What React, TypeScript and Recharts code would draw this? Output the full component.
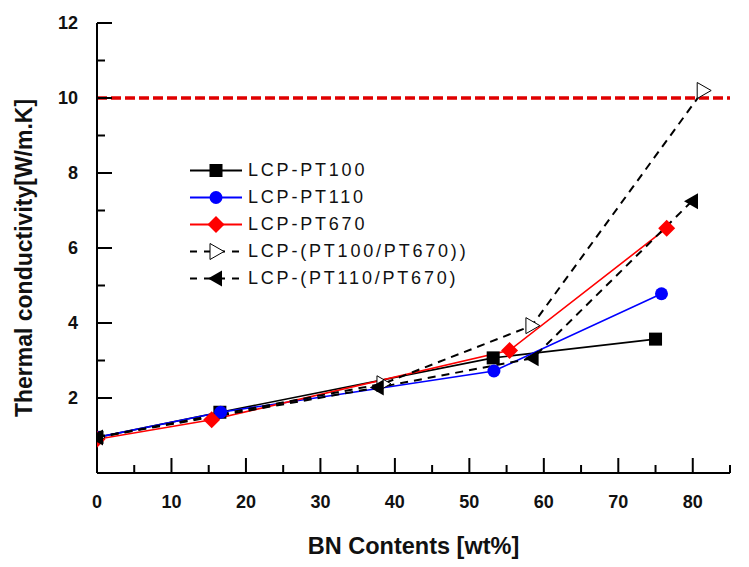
import React from 'react';
import { LineChart, Line, XAxis, YAxis, ReferenceLine, Legend } from 'recharts';

// BN content (wt%) and thermal conductivity (W/m.K) per compound
const bnPT100 = [0, 16.5, 53.2, 75.0];
const kPT100 = [0.95, 1.62, 3.07, 3.57];
const bnPT110 = [0, 16.6, 53.3, 75.8];
const kPT110 = [0.95, 1.62, 2.72, 4.78];
const bnPT670 = [0, 15.4, 55.4, 76.5];
const kPT670 = [0.9, 1.42, 3.27, 6.53];
const bnMix100 = [0, 38.4, 58.4, 81.4];
const kMix100 = [0.95, 2.38, 3.93, 10.2];
const bnMix110 = [0, 37.7, 58.5, 79.9];
const kMix110 = [0.95, 2.28, 3.06, 7.25];

const seriesNames = ['LCP-PT100', 'LCP-PT110', 'LCP-PT670', 'LCP-(PT100/PT670))', 'LCP-(PT110/PT670)'];
const xTicks = [0, 5, 10, 15, 20, 25, 30, 35, 40, 45, 50, 55, 60, 65, 70, 75, 80, 85];
const yTicks = [0, 1, 2, 3, 4, 5, 6, 7, 8, 9, 10, 11, 12];
const targetValue = 10;

const FONT = 'Arial, "Liberation Sans", sans-serif';

const toPoints = (xs: number[], ys: number[]) => xs.map((x, i) => ({ x, y: ys[i] }));

type Kind = 'square' | 'circle' | 'diamond' | 'triRight' | 'triLeft';

const Marker = ({ kind, cx, cy }: { kind: Kind; cx: number; cy: number }) => {
  if (cx == null || cy == null) return null;
  switch (kind) {
    case 'square':
      return <rect x={cx - 6.5} y={cy - 6.5} width={13} height={13} fill="#000" />;
    case 'circle':
      return <circle cx={cx} cy={cy} r={6.5} fill="#0000ff" />;
    case 'diamond':
      return <polygon points={`${cx},${cy - 8.5} ${cx + 8.5},${cy} ${cx},${cy + 8.5} ${cx - 8.5},${cy}`} fill="#ff0000" />;
    case 'triRight':
      return <polygon points={`${cx - 6},${cy - 8} ${cx + 8},${cy} ${cx - 6},${cy + 8}`} fill="#fff" stroke="#000" strokeWidth={1} />;
    default:
      return <polygon points={`${cx + 6},${cy - 8} ${cx - 8},${cy} ${cx + 6},${cy + 8}`} fill="#000" />;
  }
};

const series = [
  { name: seriesNames[0], data: toPoints(bnPT100, kPT100), kind: 'square' as Kind, color: '#000', dash: undefined, width: 1.6 },
  { name: seriesNames[1], data: toPoints(bnPT110, kPT110), kind: 'circle' as Kind, color: '#0000ff', dash: undefined, width: 1.6 },
  { name: seriesNames[2], data: toPoints(bnPT670, kPT670), kind: 'diamond' as Kind, color: '#ff0000', dash: undefined, width: 1.6 },
  { name: seriesNames[3], data: toPoints(bnMix100, kMix100), kind: 'triRight' as Kind, color: '#000', dash: '8 6', width: 2 },
  { name: seriesNames[4], data: toPoints(bnMix110, kMix110), kind: 'triLeft' as Kind, color: '#000', dash: '8 6', width: 2 },
];

// inward ticks, labels only on major values
const makeTick = (side: 'bottom' | 'left' | 'top' | 'right') => (props: any) => {
  const { x, y, payload } = props;
  const v = payload.value;
  const major = side === 'bottom' || side === 'top' ? v % 10 === 0 : v % 2 === 0;
  const len = major ? 15 : 8;
  let line;
  if (side === 'bottom') line = <line x1={x} y1={y} x2={x} y2={y - len} />;
  else if (side === 'top') line = <line x1={x} y1={y} x2={x} y2={y + len} />;
  else if (side === 'left') line = <line x1={x} y1={y} x2={x + len} y2={y} />;
  else line = <line x1={x} y1={y} x2={x - len} y2={y} />;
  return (
    <g stroke="#000" strokeWidth={2}>
      {line}
      {side === 'bottom' && major && (
        <text x={x} y={y + 29} dy="0.35em" textAnchor="middle" stroke="none" fill="#111" fontSize={18} fontWeight="bold" fontFamily={FONT}>
          {v}
        </text>
      )}
      {side === 'left' && major && v > 0 && (
        <text x={x - 19} y={y} dy="0.35em" textAnchor="end" stroke="none" fill="#111" fontSize={18} fontWeight="bold" fontFamily={FONT}>
          {v}
        </text>
      )}
    </g>
  );
};

const LegendBox = () => (
  <div style={{ fontFamily: FONT, fontSize: 18, color: '#111', letterSpacing: 2.8 }}>
    {series.map((s) => (
      <div key={s.name} style={{ display: 'flex', alignItems: 'center', height: 27 }}>
        <svg width={58} height={27}>
          <line x1={2} y1={13.5} x2={54} y2={13.5} stroke={s.color} strokeWidth={2} strokeDasharray={s.dash ? '7 7' : undefined} />
          <Marker kind={s.kind} cx={28} cy={13.5} />
        </svg>
        <span style={{ marginLeft: 2 }}>{s.name}</span>
      </div>
    ))}
  </div>
);

export default function App() {
  return (
    <div style={{ position: 'absolute', left: 0, top: 0, background: '#fff' }}>
      <LineChart width={749} height={567} margin={{ top: 23, right: 19, left: 0, bottom: 0 }}>
        <XAxis
          dataKey="x"
          type="number"
          domain={[0, 85]}
          ticks={xTicks}
          interval={0}
          height={94}
          tickSize={0}
          tickMargin={0}
          axisLine={{ stroke: '#000', strokeWidth: 2 }}
          tickLine={false}
          tick={makeTick('bottom')}
          allowDataOverflow
          label={{
            content: (p: any) => (
              <text x={p.viewBox.x + p.viewBox.width / 2} y={p.viewBox.y + 81} textAnchor="middle" fontSize={23.5} fontWeight="bold" fontFamily={FONT} fill="#111">
                BN Contents [wt%]
              </text>
            ),
          }}
        />
        <XAxis
          xAxisId="top"
          orientation="top"
          dataKey="x"
          type="number"
          domain={[0, 85]}
          ticks={xTicks}
          interval={0}
          height={0}
          tickSize={0}
          tickMargin={0}
          axisLine={{ stroke: '#000', strokeWidth: 2 }}
          tickLine={false}
          tick={makeTick('top')}
        />
        <YAxis
          type="number"
          domain={[0, 12]}
          ticks={yTicks}
          interval={0}
          width={97}
          tickSize={0}
          tickMargin={0}
          axisLine={{ stroke: '#000', strokeWidth: 2 }}
          tickLine={false}
          tick={makeTick('left')}
          label={{
            content: (p: any) => {
              const cy = p.viewBox.y + p.viewBox.height / 2 + 10;
              return (
                <text x={24} y={cy} transform={`rotate(-90 24 ${cy})`} dy="0.35em" textAnchor="middle" fontSize={23} fontWeight="bold" fontFamily={FONT} fill="#111">
                  Thermal conductivity[W/m.K]
                </text>
              );
            },
          }}
        />
        <YAxis
          yAxisId="right"
          orientation="right"
          type="number"
          domain={[0, 12]}
          ticks={yTicks}
          interval={0}
          width={0}
          tickSize={0}
          tickMargin={0}
          axisLine={{ stroke: '#000', strokeWidth: 2 }}
          tickLine={false}
          tick={makeTick('right')}
        />
        <ReferenceLine y={targetValue} stroke="#e00000" strokeWidth={3.5} strokeDasharray="10 4" />
        {series.map((s) => (
          <Line
            key={s.name}
            name={s.name}
            data={s.data}
            dataKey="y"
            type="linear"
            stroke={s.color}
            strokeWidth={s.width}
            strokeDasharray={s.dash}
            isAnimationActive={false}
            dot={(p: any) => <Marker key={`${s.kind}-${p.index}`} kind={s.kind} cx={p.cx} cy={p.cy} />}
            activeDot={false}
          />
        ))}
        <Legend
          layout="vertical"
          align="center"
          verticalAlign="middle"
          content={() => <LegendBox />}
          wrapperStyle={{ left: 188, top: 157, width: 330 }}
        />
      </LineChart>
    </div>
  );
}
